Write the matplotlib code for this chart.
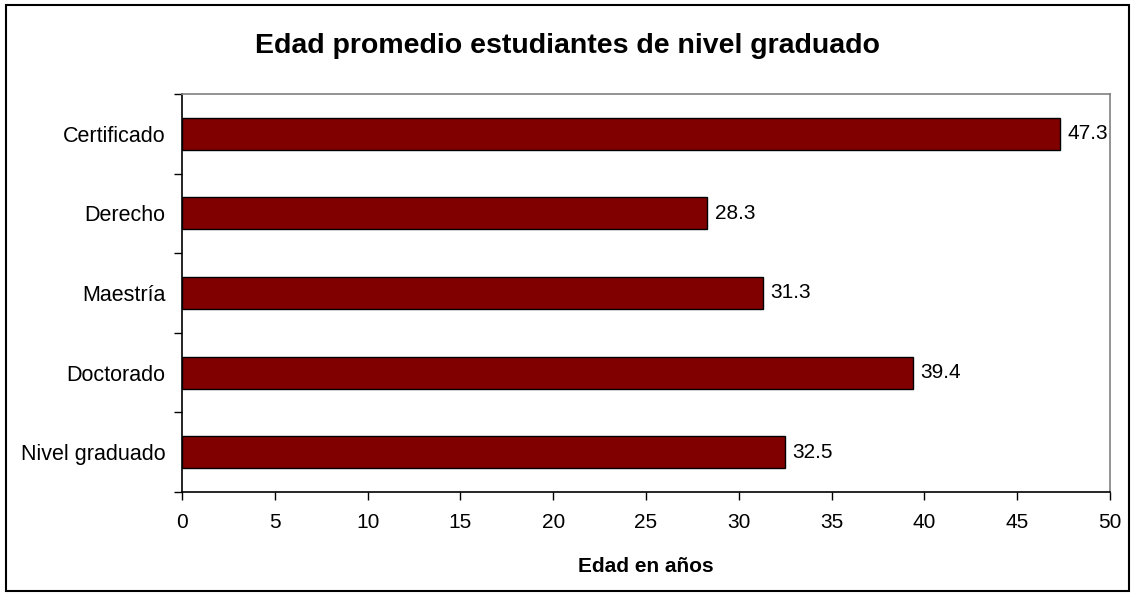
import numpy as np
import matplotlib.pyplot as plt
from matplotlib.patches import Rectangle

plt.rcParams['font.family'] = ['Liberation Sans', 'DejaVu Sans']

# Datos
categorias = ['Nivel graduado', 'Doctorado', 'Maestría', 'Derecho', 'Certificado']
edades = [32.5, 39.4, 31.3, 28.3, 47.3]
xticks = [0, 5, 10, 15, 20, 25, 30, 35, 40, 45, 50]

fig = plt.figure(figsize=(11.35, 5.96), dpi=100)
ax = fig.add_axes([0.1604, 0.1745, 0.8176, 0.6678])

y = np.arange(len(categorias))
ax.barh(y, edades, height=0.4, color='#800000', edgecolor='black', linewidth=1)

for yi, v in zip(y, edades):
    ax.text(v + 0.4, yi, f'{v:.1f}', va='center', ha='left', fontsize=15)

ax.set_xlim(0, 50)
ax.set_ylim(-0.5, len(categorias) - 0.5)
ax.set_xticks(xticks)
ax.set_xticklabels([str(t) for t in xticks], fontsize=15)
ax.tick_params(axis='x', direction='out', length=6, width=1, pad=9)

# marcas entre categorias, etiquetas en el centro
ax.set_yticks(np.arange(-0.5, len(categorias), 1.0))
ax.set_yticklabels([])
ax.set_yticks(y, minor=True)
ax.set_yticklabels(categorias, minor=True, fontsize=15.5)
ax.tick_params(axis='y', which='major', direction='out', length=6, width=1)
ax.tick_params(axis='y', which='minor', length=0, pad=12)

ax.spines['left'].set_color('black')
ax.spines['bottom'].set_color('black')
ax.spines['top'].set_color('#808080')
ax.spines['right'].set_color('#808080')
for s in ax.spines.values():
    s.set_linewidth(1.2)

ax.set_xlabel('Edad en años', fontsize=15, fontweight='bold', labelpad=18)
fig.text(0.5, 0.922, 'Edad promedio estudiantes de nivel graduado',
         ha='center', va='center', fontsize=20.5, fontweight='bold')

# marco de la figura
fig.patches.append(Rectangle((6 / 1135, 5 / 596), 1123 / 1135, 586 / 596,
                             transform=fig.transFigure, fill=False,
                             edgecolor='black', linewidth=1.5))

fig.savefig('out.png', dpi=100)
